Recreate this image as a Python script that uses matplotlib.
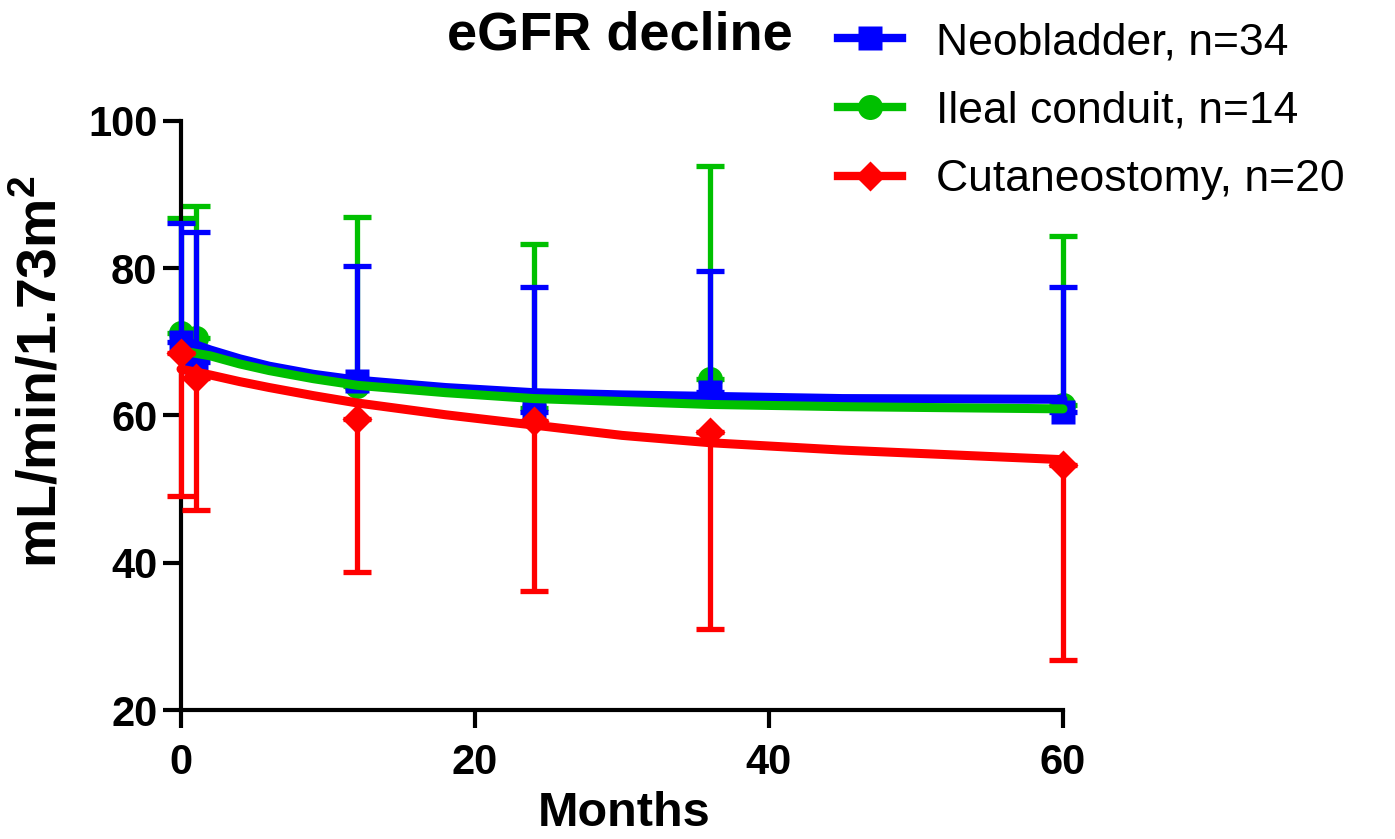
# eGFR decline over follow-up, three urinary diversion groups
# means with one-sided SD bars plus the fitted decay curves

import numpy as np
import matplotlib
import matplotlib.pyplot as plt
from matplotlib.lines import Line2D

matplotlib.rcParams['font.family'] = ['Liberation Sans', 'DejaVu Sans']
matplotlib.rcParams['mathtext.fontset'] = 'custom'
matplotlib.rcParams['mathtext.bf'] = 'Liberation Sans:bold'
matplotlib.rcParams['mathtext.rm'] = 'Liberation Sans:bold'

#~()~()~()~()~()~()~()~()~()~()~()~()~()~()~()~()~()~()~()~()~()~()~()~()~()~#
# data

months = [0, 1, 12, 24, 36, 60]

neo_mean  = [70.0, 67.3, 64.7, 60.5, 63.2, 60.5]
neo_upper = [86.2, 84.9, 80.3, 77.5, 79.6, 77.5]

ileal_mean  = [71.2, 70.5, 64.0, 61.0, 65.0, 61.4]
ileal_upper = [86.8, 88.5, 87.0, 83.3, 93.9, 84.4]

cut_mean  = [68.5, 65.1, 59.5, 59.2, 57.7, 53.3]
cut_lower = [49.0, 47.1, 38.8, 36.1, 31.0, 26.8]

# fitted curves
fit_months = [0, 2, 4, 6, 9, 12, 18, 24, 30, 36, 45, 60]
neo_fit    = [70.3, 68.9, 67.7, 66.7, 65.6, 64.8, 63.8, 63.1, 62.8, 62.6, 62.3, 62.2]
ileal_fit  = [68.8, 68.1, 67.0, 66.1, 65.0, 64.1, 63.1, 62.3, 61.9, 61.5, 61.2, 60.9]
cut_fit    = [66.3, 65.5, 64.6, 63.8, 62.7, 61.7, 60.1, 58.7, 57.3, 56.3, 55.3, 54.0]

labels = ['Neobladder, n=34', 'Ileal conduit, n=14', 'Cutaneostomy, n=20']

#~()~()~()~()~()~()~()~()~()~()~()~()~()~()~()~()~()~()~()~()~()~()~()~()~()~#
def no_clip(container):
    data_line, caplines, barcols = container.lines
    for art in list(caplines) + list(barcols):
        art.set_clip_on(False)

#~()~()~()~()~()~()~()~()~()~()~()~()~()~()~()~()~()~()~()~()~()~()~()~()~()~#
def plot_egfr():

    blue = '#0000FF'
    green = '#00C000'
    red = '#FF0000'

    W, H = 1395, 839
    fig = plt.figure(figsize=(W/100., H/100.), dpi=100)
    ax = fig.add_axes([181./W, 1-710./H, (1063.-181.)/W, (710.-121.)/H])

    x = np.array(months, dtype=float)

    # error bars, only one side is shown
    neo_err = np.array(neo_upper) - np.array(neo_mean)
    ileal_err = np.array(ileal_upper) - np.array(ileal_mean)
    cut_err = np.array(cut_mean) - np.array(cut_lower)
    zeros = np.zeros_like(x)

    eb_kw = dict(fmt='none', elinewidth=3.8, capsize=10, capthick=3.8)

    eb = ax.errorbar(x, ileal_mean, yerr=[zeros, ileal_err], ecolor=green, zorder=2, **eb_kw)
    no_clip(eb)
    ax.plot(x, ileal_mean, 'o', color=green, ms=18, mec='none', zorder=2, clip_on=False)
    eb = ax.errorbar(x, neo_mean, yerr=[zeros, neo_err], ecolor=blue, zorder=3, **eb_kw)
    no_clip(eb)
    ax.plot(x, neo_mean, 's', color=blue, ms=17.5, mec='none', zorder=3, clip_on=False)

    # fitted curves
    ax.plot(fit_months, neo_fit, '-', color=blue, lw=6.5, solid_capstyle='round', zorder=4, clip_on=False)
    ax.plot(fit_months, ileal_fit, '-', color=green, lw=6.5, solid_capstyle='round', zorder=5, clip_on=False)

    eb = ax.errorbar(x, cut_mean, yerr=[cut_err, zeros], ecolor=red, zorder=6, **eb_kw)
    no_clip(eb)
    ax.plot(fit_months, cut_fit, '-', color=red, lw=6.5, solid_capstyle='round', zorder=6, clip_on=False)
    ax.plot(x, cut_mean, 'D', color=red, ms=15, mec='none', zorder=7, clip_on=False)

    ax.set_xlim(0, 60)
    ax.set_ylim(20, 100)
    ax.set_xticks([0, 20, 40, 60])
    ax.set_yticks([20, 40, 60, 80, 100])

    for side in ['top', 'right']:
        ax.spines[side].set_visible(False)
    for side in ['left', 'bottom']:
        ax.spines[side].set_linewidth(3)
    ax.tick_params(width=3, length=13, labelsize=30)
    ax.tick_params(axis='x', pad=11)
    ax.tick_params(axis='y', pad=4)
    for lab in ax.get_xticklabels() + ax.get_yticklabels():
        lab.set_fontweight('bold')

    fig.text(624./W, 1-813./H, 'Months', fontsize=35, fontweight='bold', ha='center', va='center')
    fig.text(42./W, 1-372./H, r'mL/min/1.73m$^\mathbf{2}$', fontsize=40, fontweight='bold',
             rotation=90, ha='center', va='center')
    fig.text(620./W, 1-36./H, 'eGFR decline', fontsize=39, fontweight='bold', ha='center', va='center')

    # legend
    handles = [Line2D([], [], color=blue, lw=6, marker='s', ms=17.5, mec='none'),
               Line2D([], [], color=green, lw=6, marker='o', ms=18, mec='none'),
               Line2D([], [], color=red, lw=6, marker='D', ms=15, mec='none')]
    fig.legend(handles, labels, loc='upper left', bbox_to_anchor=(838./W, 1-22./H),
               frameon=False, fontsize=32, handlelength=1.45, handletextpad=0.76,
               labelspacing=0.62, borderpad=0, borderaxespad=0)

    plt.savefig('out.png', dpi=100)

#~()~()~()~()~()~()~()~()~()~()~()~()~()~()~()~()~()~()~()~()~()~()~()~()~()~#
if __name__ == '__main__':
    plot_egfr()
